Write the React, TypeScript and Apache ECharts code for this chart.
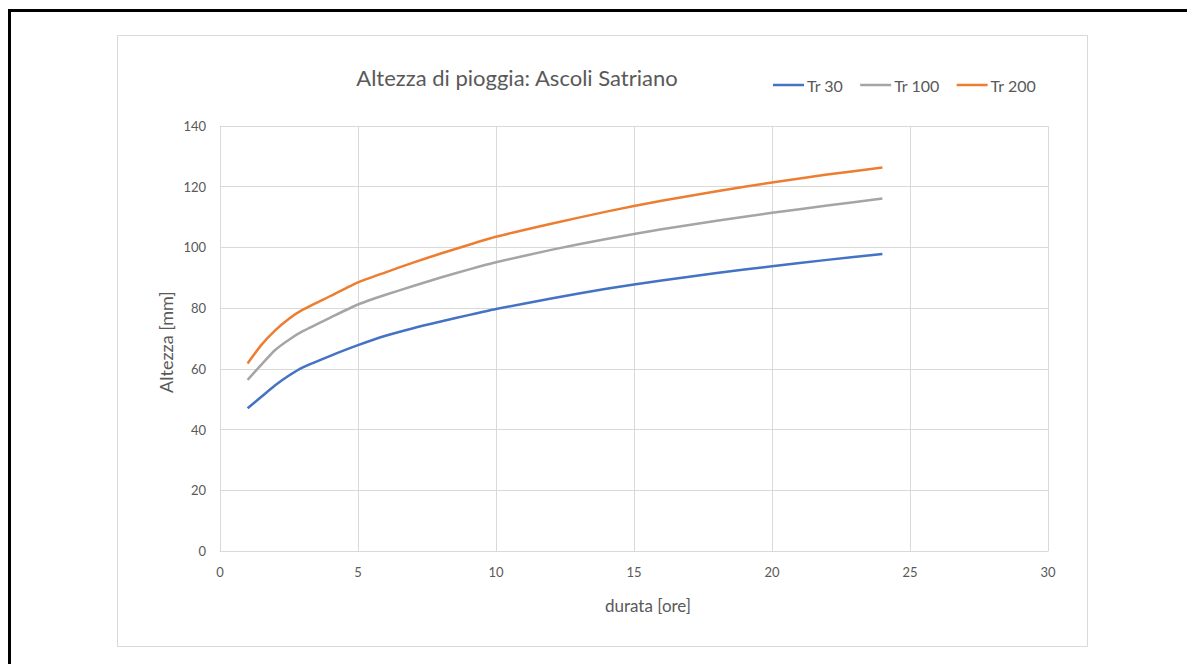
import React, { useEffect, useRef } from "react";
import * as echarts from "echarts";

const durations = [1, 1.5, 2, 2.5, 3, 4, 5, 6, 7, 8, 9, 10, 12, 14, 16, 18, 20, 22, 24];
const tr30 = [47.0, 50.8, 54.6, 57.8, 60.5, 64.3, 67.8, 70.9, 73.4, 75.6, 77.7, 79.7, 83.2, 86.4, 89.1, 91.6, 93.8, 95.9, 97.8];
const tr100 = [56.4, 61.4, 66.2, 69.6, 72.4, 76.9, 81.2, 84.4, 87.3, 90.1, 92.7, 95.1, 99.2, 102.8, 106.0, 108.8, 111.4, 113.8, 116.1];
const tr200 = [61.8, 67.9, 72.7, 76.5, 79.5, 84.0, 88.5, 91.8, 95.0, 98.0, 100.8, 103.5, 107.8, 111.8, 115.4, 118.5, 121.4, 124.0, 126.3];
const seriesNames = ["Tr 30", "Tr 100", "Tr 200"];
const seriesColors = ["#4472C4", "#A5A5A5", "#ED7D31"];
const titleText = "Altezza di pioggia: Ascoli Satriano";
const xTitle = "durata [ore]";
const yTitle = "Altezza [mm]";

const FONT = "Lato, 'Open Sans', sans-serif";
const TXT = "#595959";

export default function App() {
  const ref = useRef<HTMLDivElement>(null);
  useEffect(() => {
    if (!ref.current) return;
    const chart = echarts.init(ref.current, undefined, { renderer: "svg" });
    const values = [tr30, tr100, tr200];
    chart.setOption({
      animation: false,
      backgroundColor: "#ffffff",
      textStyle: { fontFamily: FONT },
      legend: {
        left: 768,
        top: 72,
        icon: "rect",
        itemWidth: 31,
        itemHeight: 2.5,
        itemGap: 17,
        textStyle: { fontFamily: FONT, fontSize: 16, color: TXT, padding: [0, 0, 0, -2] },
        data: seriesNames,
      },
      grid: { left: 220, right: 139, top: 126, bottom: 113, containLabel: false },
      xAxis: {
        type: "value",
        min: 0,
        max: 30,
        interval: 5,
        axisLine: { show: true, lineStyle: { color: "#d9d9d9" } },
        axisTick: { show: false },
        splitLine: { show: true, lineStyle: { color: "#d9d9d9", width: 1 } },
        axisLabel: { color: TXT, fontSize: 13, fontFamily: FONT, margin: 14 },
      },
      yAxis: {
        type: "value",
        min: 0,
        max: 140,
        interval: 20,
        axisLine: { show: false },
        axisTick: { show: false },
        splitLine: { show: true, lineStyle: { color: "#d9d9d9", width: 1 } },
        axisLabel: { color: TXT, fontSize: 13, fontFamily: FONT, margin: 14 },
      },
      graphic: [
        {
          type: "rect",
          shape: { x: 117.5, y: 35.5, width: 970, height: 611 },
          style: { fill: "none", stroke: "#d9d9d9", lineWidth: 1 },
          z: -10,
        },
        {
          type: "line",
          shape: { x1: 9.5, y1: 9, x2: 9.5, y2: 664 },
          style: { stroke: "#000", lineWidth: 3 },
        },
        {
          type: "line",
          shape: { x1: 8, y1: 10.5, x2: 1187, y2: 10.5 },
          style: { stroke: "#000", lineWidth: 3 },
        },
        {
          type: "text",
          x: 517,
          y: 77,
          style: {
            text: titleText,
            font: "22px Lato, 'Open Sans', sans-serif",
            fill: TXT,
            align: "center",
            verticalAlign: "middle",
          },
        },
        {
          type: "text",
          x: 648,
          y: 605,
          style: {
            text: xTitle,
            font: "17px Lato, 'Open Sans', sans-serif",
            fill: TXT,
            align: "center",
            verticalAlign: "middle",
          },
        },
        {
          type: "text",
          x: 166,
          y: 342,
          rotation: Math.PI / 2,
          style: {
            text: yTitle,
            font: "18px Lato, 'Open Sans', sans-serif",
            fill: TXT,
            align: "center",
            verticalAlign: "middle",
          },
        },
      ],
      series: seriesNames.map((name, i) => ({
        name,
        type: "line",
        data: durations.map((d, j) => [d, values[i][j]]),
        showSymbol: false,
        symbol: "none",
        smooth: 0.2,
        lineStyle: { color: seriesColors[i], width: 2.5 },
        itemStyle: { color: seriesColors[i] },
      })),
    });
    return () => chart.dispose();
  }, []);
  return (
    <div
      ref={ref}
      style={{ position: "fixed", left: 0, top: 0, width: 1187, height: 664 }}
    />
  );
}
